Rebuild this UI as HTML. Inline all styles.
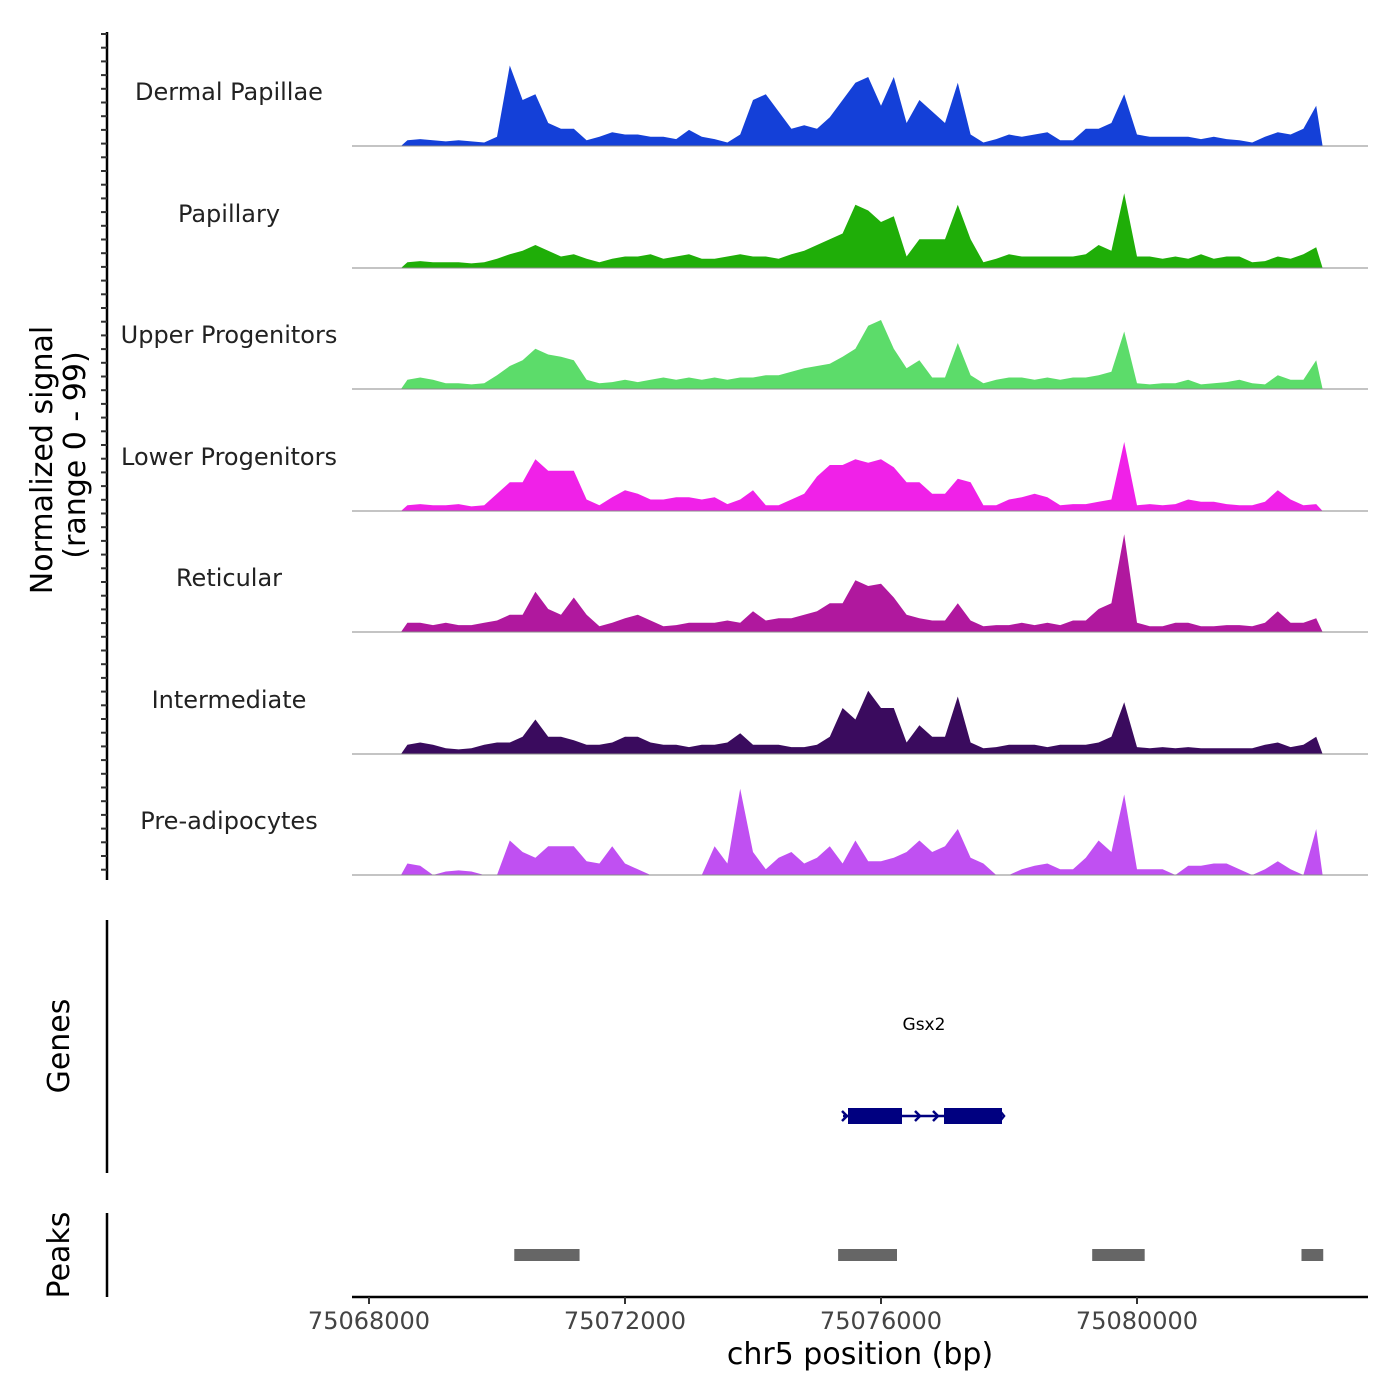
<!DOCTYPE html>
<html><head><meta charset="utf-8"><style>
html,body{margin:0;padding:0;background:#fff}
svg{display:block;font-family:"DejaVu Sans","Liberation Sans",sans-serif}
</style></head><body>
<svg id="chart" width="1400" height="1400" viewBox="0 0 1400 1400">
<g id="tracks"></g>
<g id="yaxis">
<line x1="107" y1="32" x2="107" y2="880" stroke="#000" stroke-width="2.5"/>
</g>
<text transform="translate(52,460) rotate(-90)" text-anchor="middle" font-size="30" fill="#000">Normalized signal</text>
<text transform="translate(85,455) rotate(-90)" text-anchor="middle" font-size="30" fill="#000">(range 0 - 99)</text>
<g>
<line x1="107" y1="920" x2="107" y2="1173" stroke="#000" stroke-width="2.5"/>
<text transform="translate(69,1046) rotate(-90)" text-anchor="middle" font-size="30">Genes</text>
<text x="924" y="1030" text-anchor="middle" font-size="17">Gsx2</text>
<line x1="843" y1="1116" x2="1002" y2="1116" stroke="#000080" stroke-width="2.5"/>
<rect x="848" y="1108" width="54" height="16" fill="#000080"/>
<rect x="944" y="1108" width="58" height="16" fill="#000080"/>
<path d="M842,1111 L847,1116 L842,1121 M915,1111 L920,1116 L915,1121 M933,1111 L938,1116 L933,1121 M1000,1111 L1004,1116 L1000,1121" stroke="#000080" stroke-width="2.5" fill="none"/>
</g>
<g>
<line x1="107" y1="1213" x2="107" y2="1297" stroke="#000" stroke-width="2.5"/>
<text transform="translate(69,1255) rotate(-90)" text-anchor="middle" font-size="30">Peaks</text>
<g id="peaks"></g>
</g>
<g id="xaxis">
<line x1="352" y1="1297" x2="1368" y2="1297" stroke="#000" stroke-width="2.5"/>
</g>
<text x="860" y="1364" text-anchor="middle" font-size="30">chr5 position (bp)</text>
</svg>
<script>
const trackNames=["Dermal Papillae","Papillary","Upper Progenitors","Lower Progenitors","Reticular","Intermediate","Pre-adipocytes"];
const trackColors=["#1440d8","#1fae08","#5cdc6a","#f021e8","#b0189e","#3a0b5e","#c050f2"];
const binStart=75068500, binSize=200;
const dermal=[5,6,5,4,5,4,3,8,70,40,45,20,15,15,5,8,12,10,10,8,8,6,14,8,6,3,10,40,45,30,15,18,15,25,40,55,60,35,60,20,40,30,20,55,10,3,6,10,8,10,12,5,5,15,15,20,45,10,8,8,8,8,6,8,6,5,3,8,12,10,15,35];
const papillary=[5,6,5,5,5,4,5,8,12,15,20,15,10,12,8,5,8,10,10,12,8,10,12,8,8,10,12,10,10,8,12,15,20,25,30,55,50,40,45,10,25,25,25,55,25,5,8,12,10,10,10,10,10,12,20,15,65,10,10,8,10,8,12,8,10,10,5,6,10,8,12,18];
const upper=[8,10,8,5,5,4,5,12,20,25,35,30,28,25,8,5,6,8,6,8,10,8,10,8,10,8,10,10,12,12,15,18,20,22,28,35,55,60,35,18,25,10,10,40,12,5,8,10,10,8,10,8,10,10,12,15,50,5,4,5,5,8,4,5,6,8,5,4,12,8,8,25];
const lower=[5,6,5,5,6,4,5,15,25,25,45,35,35,35,10,5,12,18,15,10,10,12,12,10,12,6,10,18,5,5,10,15,30,40,40,45,42,45,38,25,25,15,15,28,25,5,5,10,12,15,12,5,6,6,8,10,60,5,6,5,6,10,8,8,6,5,5,8,18,10,5,6];
const reticular=[8,8,6,8,6,6,8,10,15,15,35,20,15,30,15,5,8,12,15,10,5,6,8,8,8,10,8,18,10,12,12,15,18,25,25,45,40,42,30,15,12,10,10,25,10,5,6,6,8,6,8,6,10,10,20,25,85,8,5,5,8,8,5,5,6,6,5,8,18,8,8,12];
const intermediate=[8,10,8,5,4,5,8,10,10,15,30,15,15,12,8,8,10,15,15,10,8,8,6,8,8,10,18,8,8,8,6,6,8,15,40,30,55,40,40,10,25,15,15,50,10,5,6,8,8,8,6,8,8,8,10,15,45,6,5,6,5,6,5,5,5,5,5,8,10,6,8,15];
const preadipo=[10,8,0,3,4,3,0,0,30,20,15,25,25,25,12,10,25,10,5,0,0,0,0,0,25,10,75,20,5,15,20,10,15,25,10,30,12,12,15,20,30,20,25,40,15,10,0,0,5,8,10,5,5,15,30,20,70,5,5,5,0,8,8,10,10,5,0,5,12,5,0,40];
const trackValues=[dermal,papillary,upper,lower,reticular,intermediate,preadipo];
const peakStarts=[75070270,75075330,75079300,75082570];
const peakEnds=[75071290,75076250,75080120,75082910];
const xTicks=[75068000,75072000,75076000,75080000];

const NS="http://www.w3.org/2000/svg";
const xScale=bp=>369+(bp-75068000)*0.064;
const baselines=[146,268,389,511,632,754,875];
const yScale=(i,v)=>baselines[i]-v*1.15;
const tracks=document.getElementById('tracks');
trackValues.forEach((vals,i)=>{
  const x0=xScale(binStart), x1=xScale(binStart+vals.length*binSize);
  let d=`M${x0},${baselines[i]}`;
  vals.forEach((v,j)=>{d+=` L${xScale(binStart+(j+0.5)*binSize)},${yScale(i,v)}`;});
  d+=` L${x1},${baselines[i]} Z`;
  const p=document.createElementNS(NS,'path');
  
  
  p.setAttribute('d',d);p.setAttribute('fill',trackColors[i]);
  tracks.appendChild(p);
  const l=document.createElementNS(NS,'line');
  
  
  l.setAttribute('x1',352);l.setAttribute('x2',1368);l.setAttribute('y1',baselines[i]);l.setAttribute('y2',baselines[i]);
  l.setAttribute('stroke','#888');l.setAttribute('stroke-width','1');
  tracks.appendChild(l);
  const t=document.createElementNS(NS,'text');
  
  
  t.setAttribute('x',229);t.setAttribute('y',baselines[i]-46);t.setAttribute('text-anchor','middle');
  t.setAttribute('font-size','24');t.setAttribute('fill','#222');t.textContent=trackNames[i];
  tracks.appendChild(t);
});
const ya=document.getElementById('yaxis');
for(let y=34;y<=880;y+=13.7){
  const l=document.createElementNS(NS,'line');
  
  
  l.setAttribute('x1',101);l.setAttribute('x2',107);l.setAttribute('y1',y);l.setAttribute('y2',y);
  l.setAttribute('stroke','#333');l.setAttribute('stroke-width','2');
  ya.appendChild(l);
}
const pk=document.getElementById('peaks');
peakStarts.forEach((s,i)=>{
  const r=document.createElementNS(NS,'rect');
  
  
  r.setAttribute('x',xScale(s));r.setAttribute('width',xScale(peakEnds[i])-xScale(s));
  r.setAttribute('y',1249);r.setAttribute('height',12);r.setAttribute('fill','#666');
  pk.appendChild(r);
});
const xa=document.getElementById('xaxis');
xTicks.forEach(v=>{
  const l=document.createElementNS(NS,'line');
  
  
  l.setAttribute('x1',xScale(v));l.setAttribute('x2',xScale(v));l.setAttribute('y1',1297);l.setAttribute('y2',1304);
  l.setAttribute('stroke','#333');l.setAttribute('stroke-width','2');
  xa.appendChild(l);
  const t=document.createElementNS(NS,'text');
  
  
  t.setAttribute('x',xScale(v));t.setAttribute('y',1329);t.setAttribute('text-anchor','middle');
  t.setAttribute('font-size','24');t.setAttribute('fill','#444');t.textContent=v;
  xa.appendChild(t);
});
</script>
</body></html>
